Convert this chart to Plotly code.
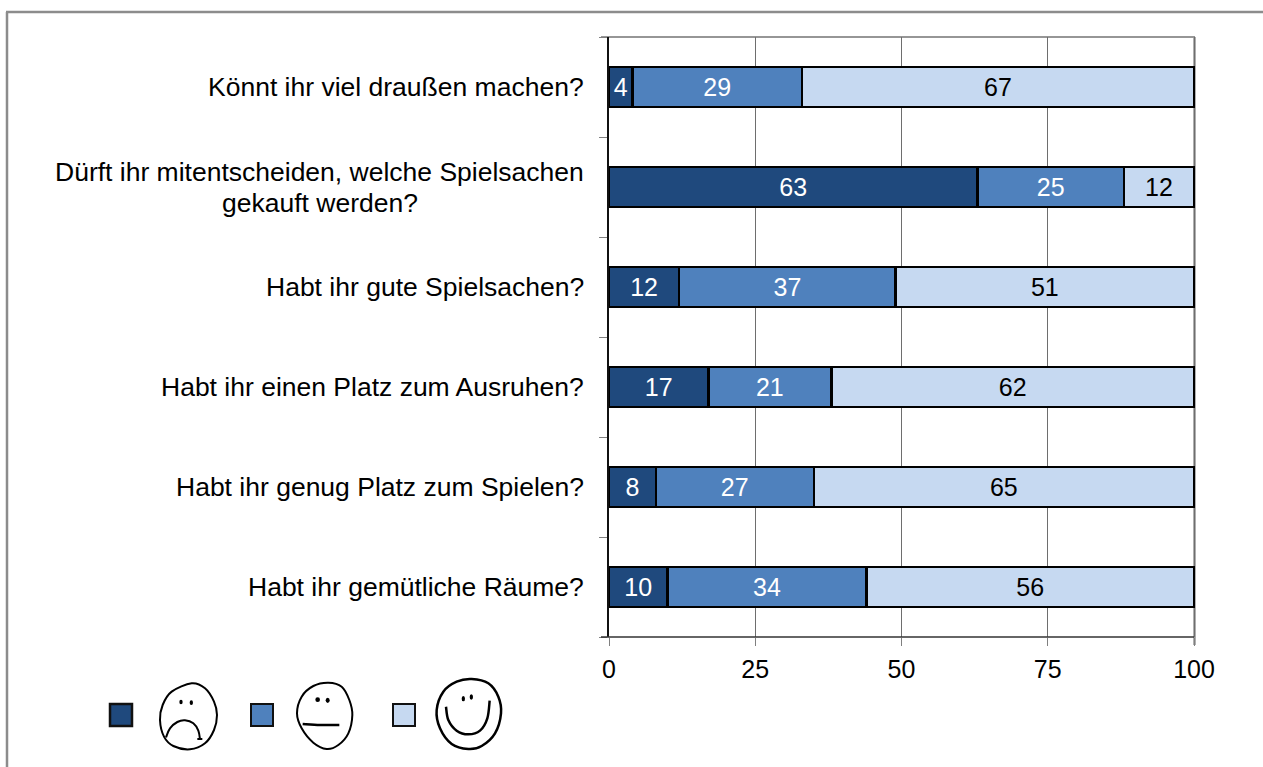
import plotly.graph_objects as go

# ---- data (drawn bottom to top) ----
questions = [
    "Habt ihr gemütliche Räume?",
    "Habt ihr genug Platz zum Spielen?",
    "Habt ihr einen Platz zum Ausruhen?",
    "Habt ihr gute Spielsachen?",
    "Dürft ihr mitentscheiden, welche Spielsachen<br>gekauft werden?",
    "Könnt ihr viel draußen machen?",
]
sad = [10, 8, 17, 12, 63, 4]
neutral = [34, 27, 21, 37, 25, 29]
happy = [56, 65, 62, 51, 12, 67]
x_ticks = [0, 25, 50, 75, 100]

DARK, MID, LIGHT = "#1f497d", "#4f81bd", "#c6d9f1"
FONT = "Liberation Sans"
FS = 25
LABEL_FS = 26.5
W, H = 1263, 767
L, R, T, B = 609, 1194, 37, 637
RIGHT_PAD = 2  # px of room so the last bar's right outline is not clipped


def px(x):
    return (x - L) / (R + RIGHT_PAD - L)


def py(y):
    return (B - y) / (B - T)


def zoom_pt(p):
    """legend-strip sketch coordinates -> paper"""
    return px(90 + p[0] / 3), py(640 + p[1] / 3)


def smooth(points, closed=True):
    pts = [zoom_pt(p) for p in points]
    n = len(pts)
    d = f"M {pts[0][0]:.5f} {pts[0][1]:.5f}"
    segs = n if closed else n - 1
    for i in range(segs):
        if closed:
            p0, p1, p2, p3 = pts[(i - 1) % n], pts[i], pts[(i + 1) % n], pts[(i + 2) % n]
        else:
            p0, p1, p2, p3 = pts[max(i - 1, 0)], pts[i], pts[i + 1], pts[min(i + 2, n - 1)]
        c1 = (p1[0] + (p2[0] - p0[0]) / 6, p1[1] + (p2[1] - p0[1]) / 6)
        c2 = (p2[0] - (p3[0] - p1[0]) / 6, p2[1] - (p3[1] - p1[1]) / 6)
        d += f" C {c1[0]:.5f} {c1[1]:.5f} {c2[0]:.5f} {c2[1]:.5f} {p2[0]:.5f} {p2[1]:.5f}"
    return d + (" Z" if closed else "")


def stroke(points, closed=False, width=2.0):
    return dict(type="path", xref="paper", yref="paper", path=smooth(points, closed),
                line=dict(color="#000", width=width), layer="above")


def dot(cx, cy, rx=5, ry=7):
    (x0, y0), (x1, y1) = zoom_pt((cx - rx, cy - ry)), zoom_pt((cx + rx, cy + ry))
    return dict(type="circle", xref="paper", yref="paper", x0=x0, x1=x1, y0=y0, y1=y1,
                fillcolor="#000", line=dict(width=0))


def hline(x0, x1, y, color, width, layer="above"):
    return dict(type="line", xref="paper", yref="paper", x0=px(x0), x1=px(x1), y0=py(y), y1=py(y),
                line=dict(color=color, width=width), layer=layer)


def vline(x, y0, y1, color, width, layer="above"):
    return dict(type="line", xref="paper", yref="paper", x0=px(x), x1=px(x), y0=py(y0), y1=py(y1),
                line=dict(color=color, width=width), layer=layer)


def square(x0, y0, x1, y1, fill, width=2):
    return dict(type="rect", xref="paper", yref="paper", x0=px(x0), x1=px(x1), y0=py(y0), y1=py(y1),
                fillcolor=fill, line=dict(color="#111", width=width))


fig = go.Figure()
for name, vals, col, tcol in [("unzufrieden", sad, DARK, "white"),
                              ("neutral", neutral, MID, "white"),
                              ("zufrieden", happy, LIGHT, "black")]:
    fig.add_bar(y=questions, x=vals, name=name, orientation="h",
                marker=dict(color=col, line=dict(color="#000", width=2.5)),
                text=vals, textposition="inside", insidetextanchor="middle", textangle=0,
                textfont=dict(color=tcol, size=FS, family=FONT), constraintext="none", cliponaxis=False)

shapes = [
    # outer frame
    hline(6, W, 12, "#8c8c8c", 2.5),
    vline(7, 12, H, "#8c8c8c", 2.5),
    # plot frame
    hline(601, R + 1, T, "#969696", 2, "below"),
    vline(R + 0.5, T, 645, "#969696", 2.5, "below"),
    hline(601, R, B, "#333333", 1.5),
    # legend swatches
    square(110, 704, 132, 726, DARK, 2.5),
    square(251, 704, 273, 726, MID),
    square(393, 704, 415, 726, LIGHT),
    # sad face
    stroke([(305, 130), (345, 145), (372, 185), (381, 225), (372, 270), (345, 310), (300, 328), (250, 318), (222, 290), (210, 240), (218, 195), (245, 155)], True),
    dot(273, 186), dot(304, 188),
    stroke([(228, 292), (240, 265), (262, 246), (285, 241), (310, 250), (325, 272), (330, 298)]),
    stroke([(322, 297), (337, 297)]),
    # neutral face
    stroke([(715, 128), (755, 140), (778, 180), (787, 225), (775, 280), (745, 315), (710, 327), (670, 308), (635, 265), (621, 220), (635, 170), (670, 138)], True),
    dot(683, 179, 7, 7), dot(713, 181, 6, 8),
    stroke([(638, 252), (690, 255), (748, 255)], width=2.5),
    # happy face
    stroke([(1145, 117), (1195, 130), (1225, 170), (1233, 220), (1215, 280), (1175, 318), (1135, 327), (1085, 312), (1050, 265), (1040, 210), (1060, 155), (1100, 125)], True, 2.5),
    dot(1120, 176, 5, 8), dot(1144, 171, 5, 8),
    stroke([(1068, 200), (1075, 240), (1100, 272), (1135, 283), (1170, 272), (1192, 235), (1199, 182)], width=2.5),
]

annotations = []
for q in questions:
    lines = q.split("<br>")
    common = dict(xref="paper", yref="y", y=q, yanchor="middle", showarrow=False,
                  font=dict(family=FONT, size=LABEL_FS, color="#000"))
    if len(lines) == 1:
        annotations.append(dict(text=q, x=px(586), xanchor="right", **common))
    else:
        annotations.append(dict(text=lines[0], x=px(586), xanchor="right", yshift=15, **common))
        annotations.append(dict(text=lines[1], x=px(320), xanchor="center", yshift=-16, **common))

fig.update_layout(
    width=W, height=H, autosize=False,
    margin=dict(l=L, r=W - R - RIGHT_PAD, t=T, b=H - B, pad=0),
    barmode="stack", bargap=0.6,
    paper_bgcolor="white", plot_bgcolor="white", showlegend=False,
    font=dict(family=FONT, size=FS, color="#000"),
    shapes=shapes, annotations=annotations,
    xaxis=dict(range=[0, 100 * (R + RIGHT_PAD - L) / (R - L)], tickvals=x_ticks, ticks="outside", ticklen=8,
               tickcolor="#808080", tickwidth=1,
               showgrid=True, gridcolor="#6e6e6e", gridwidth=1, zeroline=False,
               showline=False, ticklabelstandoff=2,
               tickfont=dict(family=FONT, size=FS, color="#000")),
    yaxis=dict(type="category", categoryorder="array", categoryarray=questions, showticklabels=False,
               ticks="outside", tickson="boundaries", ticklen=8, tickcolor="#808080", tickwidth=1,
               showgrid=False, zeroline=False, showline=True, linecolor="#111", linewidth=2),
)

fig.write_html("out.html", config={"displayModeBar": False},
               post_script="document.body.style.margin='0';document.body.style.overflow='hidden';")
